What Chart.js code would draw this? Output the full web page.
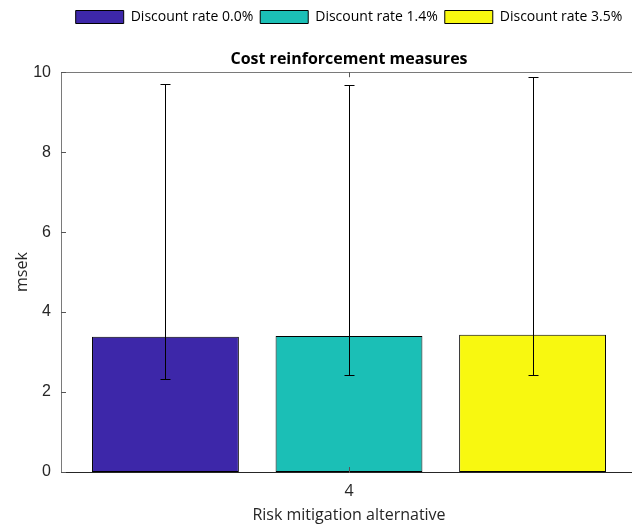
<!DOCTYPE html>
<html><head><meta charset="utf-8">
<script src="https://cdn.jsdelivr.net/npm/chart.js@4.4.0/dist/chart.umd.min.js"></script>
<style>html,body{margin:0;padding:0;overflow:hidden;background:#fff;width:632px;height:528px}</style>
</head><body>
<canvas id="c" width="692" height="528" style="width:692px;height:528px;display:block"></canvas>
<script>
const categories = ['4'];
const seriesNames = ['Discount rate 0.0%', 'Discount rate 1.4%', 'Discount rate 3.5%'];
const meanValues = [3.38, 3.40, 3.43];
const lowerValues = [2.33, 2.42, 2.42];
const upperValues = [9.70, 9.68, 9.87];
const yTicks = [0, 2, 4, 6, 8, 10];
const seriesColors = ['#3D27A9', '#1BBFB6', '#F8F810'];

const datasets = seriesNames.map((n, i) => ({
  label: n,
  data: [meanValues[i]],
  backgroundColor: seriesColors[i],
  borderColor: '#000',
  borderWidth: 1,
  borderSkipped: false
}));

const extras = {
  id: 'extras',
  afterDatasetsDraw(chart) {
    const ctx = chart.ctx, y = chart.scales.y, x = chart.scales.x, a = chart.chartArea;
    ctx.save();
    ctx.strokeStyle = '#000';
    ctx.lineWidth = 1;
    seriesNames.forEach((n, i) => {
      const bar = chart.getDatasetMeta(i).data[0];
      const cx = Math.round(bar.x) + 0.5;
      const yl = Math.round(y.getPixelForValue(lowerValues[i])) + 0.5;
      const yh = Math.round(y.getPixelForValue(upperValues[i])) + 0.5;
      ctx.beginPath();
      ctx.moveTo(cx, yl); ctx.lineTo(cx, yh);
      ctx.moveTo(cx - 5, yl); ctx.lineTo(cx + 5, yl);
      ctx.moveTo(cx - 5, yh); ctx.lineTo(cx + 5, yh);
      ctx.stroke();
    });
    ctx.strokeStyle = '#7a7a7a';
    ctx.beginPath();
    ctx.moveTo(a.left, Math.round(a.top) + 0.5);
    ctx.lineTo(a.right, Math.round(a.top) + 0.5);
    ctx.stroke();
    ctx.strokeStyle = '#555';
    ctx.beginPath();
    yTicks.forEach(v => {
      const py = Math.round(y.getPixelForValue(v)) + 0.5;
      ctx.moveTo(a.left, py); ctx.lineTo(a.left + 5, py);
    });
    categories.forEach((c, i) => {
      const px = Math.round(x.getPixelForValue(i)) + 0.5;
      ctx.moveTo(px, a.bottom); ctx.lineTo(px, a.bottom - 5);
      ctx.moveTo(px, a.top); ctx.lineTo(px, a.top + 5);
    });
    ctx.stroke();
    ctx.restore();
  }
};

new Chart(document.getElementById('c'), {
  type: 'bar',
  data: { labels: categories, datasets },
  options: {
    responsive: false,
    animation: false,
    devicePixelRatio: 1,
    layout: { padding: { left: 0, right: 55, top: 3, bottom: 0 } },
    datasets: { bar: { categoryPercentage: 0.956, barPercentage: 0.8 } },
    plugins: {
      legend: {
        position: 'top',
        align: 'center',
        fullSize: false,
        weight: 3000,
        labels: {
          boxWidth: 48, boxHeight: 13, padding: 7, color: '#000',
          font: { family: 'Open Sans', size: 14 }
        }
      },
      title: {
        display: true,
        fullSize: false,
        weight: 500,
        text: 'Cost reinforcement measures',
        color: '#000',
        font: { family: 'Open Sans', size: 16, weight: 'bold' },
        padding: { top: 16, bottom: 3 }
      },
      tooltip: { enabled: false }
    },
    scales: {
      x: {
        type: 'category',
        grid: { display: false, drawTicks: false },
        border: { display: true, color: '#262626', width: 1 },
        ticks: { color: '#262626', padding: 10, font: { family: 'Open Sans', size: 16 } },
        title: { display: true, text: 'Risk mitigation alternative', color: '#262626',
          font: { family: 'Open Sans', size: 16 }, padding: { top: 3, bottom: 3 } },
        afterFit(s) { s.height = 56; }
      },
      y: {
        min: 0, max: 10,
        grid: { display: false, drawTicks: false },
        border: { display: true, color: '#7a7a7a', width: 1 },
        afterBuildTicks(s) { s.ticks = yTicks.map(v => ({ value: v })); },
        ticks: { color: '#262626', padding: 10, font: { family: 'Liberation Sans', size: 16 } },
        title: { display: true, text: 'msek', color: '#262626',
          font: { family: 'Open Sans', size: 16 }, padding: { top: 13, bottom: 13 } },
        afterFit(s) { s.width = 61; }
      }
    }
  },
  plugins: [extras]
});
</script>
</body></html>
